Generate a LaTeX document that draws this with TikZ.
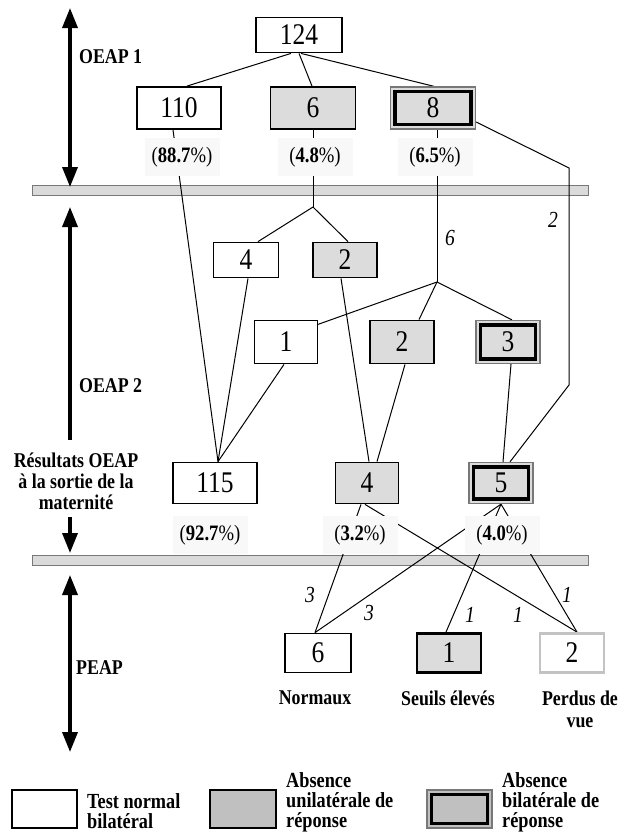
\documentclass[tikz,border=0pt]{standalone}
\usepackage{fontspec}
\setmainfont{Liberation Serif}[FakeStretch=0.85]
\usetikzlibrary{arrows.meta,calc,backgrounds}
\definecolor{boxgray}{RGB}{220,220,220}
\definecolor{leggray}{RGB}{192,192,192}
\definecolor{bargray}{RGB}{218,218,218}
\definecolor{lblbg}{RGB}{248,248,248}
\definecolor{rimgray}{RGB}{120,120,120}
\definecolor{lostgray}{RGB}{195,195,195}
\begin{document}
\begin{tikzpicture}[x=1pt,y=-1pt,
  numbox/.style={draw=black,line width=1.8pt,fill=white,inner sep=0pt,
    minimum width=64pt,minimum height=42pt,font=\fontsize{30}{32}\selectfont},
  graybox/.style={numbox,fill=boxgray},
  dblbox/.style={numbox,fill=boxgray,draw=rimgray,line width=1.3pt,
    path picture={\draw[black,line width=3.2pt]
      ($(path picture bounding box.south west)+(4.5,-4.5)$) rectangle
      ($(path picture bounding box.north east)+(-4.5,4.5)$);}},
  pct/.style={fill=lblbg,minimum width=75pt,minimum height=38pt,inner sep=0pt,
    font=\fontsize{22}{24}\selectfont},
  cnt/.style={inner sep=0pt,font=\itshape\fontsize{23}{25}\selectfont},
  lbl/.style={inner sep=0pt,font=\bfseries\fontsize{21}{21}\selectfont},
  leg/.style={inner sep=0pt,anchor=west,align=left,font=\bfseries\fontsize{21.5}{20}\selectfont},
  conn/.style={line width=1pt,black},
  bar/.style={draw=rimgray,line width=1pt,fill=bargray,minimum width=556pt,minimum height=10pt,inner sep=0pt},
  bigarrow/.style={line width=3.5pt,-{Triangle[width=15pt,length=20pt]}},
  bigdarrow/.style={line width=3.5pt,{Triangle[width=15pt,length=20pt]}-{Triangle[width=15pt,length=20pt]}},
]
\useasboundingbox (0,0) rectangle (623,835);

% ---- left axis ----
\coordinate (a1t) at (70,8);   \coordinate (a1b) at (70,187);
\coordinate (a2t) at (70,207); \coordinate (a2b) at (70,440);
\coordinate (a3t) at (70,517); \coordinate (a3b) at (70,553);
\coordinate (a4t) at (70,575); \coordinate (a4b) at (70,752);
\draw[bigdarrow] (a1t) -- (a1b);
\draw[bigarrow] (a2b) -- (a2t);
\draw[bigarrow] (a3t) -- (a3b);
\draw[bigdarrow] (a4t) -- (a4b);
\node[lbl,anchor=west] (lo1) at (79,57) {OEAP 1};
\node[lbl,anchor=west] (lo2) at (79,386) {OEAP 2};
\node[lbl,anchor=west] (lpe) at (76,668) {PEAP};
\node[lbl,align=center,font=\bfseries\fontsize{21}{21}\selectfont] (lres) at (76,481)
  {Résultats OEAP\\à la sortie de la\\maternité};

% ---- OEAP 1 ----
\node[numbox,minimum width=86pt,minimum height=35pt] (t124) at (299,35) {124};
\node[numbox,minimum width=84pt] (b110) at (179,108) {110};
\node[graybox,minimum width=85pt] (b6) at (313,108) {6};
\node[dblbox,minimum width=85pt] (b8) at (433,108) {8};
\node[pct] (p887) at (182,157) {(\textbf{88.7}\%)};
\node[pct] (p48) at (315,157) {(\textbf{4.8}\%)};
\node[pct] (p65) at (435,157) {(\textbf{6.5}\%)};

% ---- OEAP 2 ----
\coordinate (j1) at (313,207);
\coordinate (j2) at (437,282);
\coordinate (k1) at (569,168);
\coordinate (k2) at (569,385);
\node[numbox,minimum width=65pt,minimum height=35pt] (b4) at (246,260) {4};
\node[graybox,minimum height=35pt] (b2) at (345,260) {2};
\node[numbox,minimum width=63pt,minimum height=43pt] (b1) at (286,342) {1};
\node[graybox,minimum height=43pt] (b2b) at (402,342) {2};
\node[dblbox,minimum height=43pt] (b3) at (508,342) {3};
\node[cnt] (c6) at (450,238) {6};
\node[cnt] (c2) at (553,220) {2};

% ---- results ----
\node[numbox,minimum width=84pt,minimum height=41pt] (b115) at (215,483) {115};
\node[graybox,minimum width=63pt,minimum height=41pt] (b4b) at (367,483) {4};
\node[dblbox,minimum height=41pt] (b5) at (501,483) {5};
\node[pct] (p927) at (210,535) {(\textbf{92.7}\%)};
\node[pct] (p32) at (360,535) {(\textbf{3.2}\%)};
\node[pct] (p40) at (502,535) {(\textbf{4.0}\%)};

% ---- PEAP ----
\node[numbox,minimum width=66pt,minimum height=39pt] (b6c) at (318,653) {6};
\node[numbox,fill=boxgray,line width=2.8pt,minimum height=39pt] (b1c) at (449,653) {1};
\node[numbox,draw=lostgray,line width=2.8pt,minimum height=39pt] (b2c) at (572,653) {2};
\node[lbl] (ln) at (315,698) {Normaux};
\node[lbl] (ls) at (448,698) {Seuils élevés};
\node[lbl,align=center,font=\bfseries\fontsize{21}{22}\selectfont] (lp) at (580,709) {Perdus de\\vue};
\node[cnt] (c3a) at (310,595) {3};
\node[cnt] (c3b) at (369,613) {3};
\node[cnt] (c1a) at (470,615) {1};
\node[cnt] (c1b) at (518,615) {1};
\node[cnt] (c1c) at (567,595) {1};

% ---- legend ----
\node[numbox,minimum width=65pt,minimum height=38pt] (lg1) at (44.5,809) {};
\node[numbox,fill=leggray,minimum width=66pt,minimum height=38pt] (lg2) at (243,809) {};
\node[dblbox,fill=leggray,minimum width=65pt,minimum height=38pt] (lg3) at (459.5,809) {};
\node[leg] (lt1) at (87,811) {Test normal\\bilatéral};
\node[leg] (lt2) at (286,802) {Absence\\unilatérale de\\réponse};
\node[leg] (lt3) at (502,802) {Absence\\bilatérale de\\réponse};

\begin{scope}[on background layer]
\node[bar] (bar1) at (310,190) {};
\node[bar] (bar2) at (310,560) {};
% OEAP 1 tree
\draw[conn] ($(t124.south)+(-8,0)$) -- ($(b110.north)+(8,0)$);
\draw[conn] ($(t124.south)+(0,0)$) -- ($(b6.north)+(-1,0)$);
\draw[conn] ($(t124.south)+(2,0)$) -- ($(b8.north)+(1,0)$);
% 110 -> 115
\draw[conn] ($(b110.south)+(-6,0)$) -- ($(b115.north)+(3,0)$);
% 6 -> 4, 2
\draw[conn] (b6.south) -- (j1);
\draw[conn] (j1) -- ($(b4.north)+(12,0)$);
\draw[conn] (j1) -- ($(b2.north)+(3,0)$);
% 8 -> 1, 2, 3
\draw[conn] ($(b8.south)+(4,0)$) -- (j2);
\draw[conn] (j2) -- ($(b1.north east)+(-1,5)$);
\draw[conn] (j2) -- ($(b2b.north)+(17,0)$);
\draw[conn] (j2) -- ($(b3.north)+(4,0)$);
% 8 -> 5 (2 cases)
\draw[conn] ($(b8.east)+(0,14)$) -- (k1) -- (k2) -- ($(b5.north)+(9,0)$);
% second test -> results
\draw[conn] ($(b4.south)+(2,0)$) -- ($(b115.north)+(3,0)$);
\draw[conn] ($(b1.south)+(-2,0)$) -- ($(b115.north)+(3,0)$);
\draw[conn] ($(b2.south)+(-4,0)$) -- ($(b4b.north)+(2,0)$);
\draw[conn] ($(b2b.south)+(3,0)$) -- ($(b4b.north)+(10,0)$);
\draw[conn] ($(b3.south)+(3,0)$) -- ($(b5.north)+(2,0)$);
% results -> PEAP
\draw[conn] ($(b4b.south)+(-6,0)$) -- ($(b6c.north)+(-3,0)$);
\draw[conn] ($(b4b.south)+(-2,0)$) -- ($(b2c.north)+(5,0)$);
\draw[conn] (b5.south) -- ($(b6c.north)+(-3,0)$);
\draw[conn] (b5.south) -- ($(b1c.north)+(-3,0)$);
\draw[conn] (b5.south) -- ($(b2c.north)+(5,0)$);
\end{scope}
\end{tikzpicture}
\end{document}
